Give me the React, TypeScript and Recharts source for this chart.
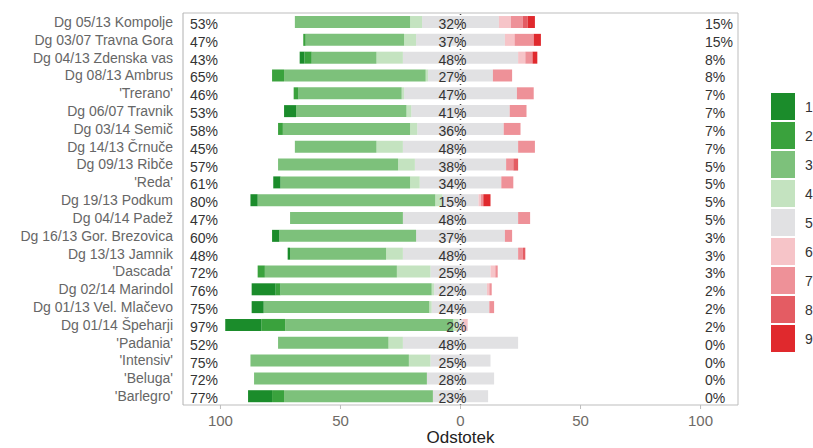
import React from 'react';
import { BarChart, Bar, XAxis, YAxis, ReferenceLine, LabelList } from 'recharts';

// Likert-style answers per cultivar (percent of respondents per score 1..9)
const names = [
  'Dg 05/13 Kompolje', 'Dg 03/07 Travna Gora', 'Dg 04/13 Zdenska vas', 'Dg 08/13 Ambrus',
  "'Trerano'", 'Dg 06/07 Travnik', 'Dg 03/14 Semič', 'Dg 14/13 Črnuče', 'Dg 09/13 Ribče',
  "'Reda'", 'Dg 19/13 Podkum', 'Dg 04/14 Padež', 'Dg 16/13 Gor. Brezovica', 'Dg 13/13 Jamnik',
  "'Dascada'", 'Dg 02/14 Marindol', 'Dg 01/13 Vel. Mlačevo', 'Dg 01/14 Špeharji',
  "'Padania'", "'Intensiv'", "'Beluga'", "'Barlegro'",
];

const c1 = [0, 0, 2, 0, 0, 5, 0, 0, 0, 3, 3, 0, 3, 1, 0, 10, 5, 15, 0, 0, 0, 10];
const c2 = [0, 1, 3, 5, 2, 0, 2, 0, 0, 0, 0, 0, 0, 0, 3, 2, 0, 10, 0, 0, 0, 5];
const c3 = [48, 41, 27, 59, 43, 46, 53, 34, 50, 54, 74, 47, 57, 40, 55, 63, 69, 70, 46, 66, 72, 62];
const c4 = [5, 5, 11, 1, 1, 2, 3, 11, 7, 4, 3, 0, 0, 7, 14, 1, 1, 2, 6, 9, 0, 0];
const c5 = [32, 37, 48, 27, 47, 41, 36, 48, 38, 34, 15, 48, 37, 48, 25, 22, 24, 2, 48, 25, 28, 23];
const c6 = [5, 4, 3, 0, 0, 0, 0, 0, 0, 0, 1, 0, 0, 0, 2, 1, 0, 2, 0, 0, 0, 0];
const c7 = [5, 8, 3, 8, 7, 7, 7, 7, 3, 5, 1, 5, 3, 2, 1, 1, 2, 0, 0, 0, 0, 0];
const c8 = [2, 0, 0, 0, 0, 0, 0, 0, 2, 0, 0, 0, 0, 1, 0, 0, 0, 0, 0, 0, 0, 0];
const c9 = [3, 3, 2, 0, 0, 0, 0, 0, 0, 0, 3, 0, 0, 0, 0, 0, 0, 0, 0, 0, 0, 0];

const posLabels = ['53%', '47%', '43%', '65%', '46%', '53%', '58%', '45%', '57%', '61%', '80%', '47%', '60%', '48%', '72%', '76%', '75%', '97%', '52%', '75%', '72%', '77%'];
const neuLabels = ['32%', '37%', '48%', '27%', '47%', '41%', '36%', '48%', '38%', '34%', '15%', '48%', '37%', '48%', '25%', '22%', '24%', '2%', '48%', '25%', '28%', '23%'];
const negLabels = ['15%', '15%', '8%', '8%', '7%', '7%', '7%', '7%', '5%', '5%', '5%', '5%', '3%', '3%', '3%', '2%', '2%', '2%', '0%', '0%', '0%', '0%'];

const legendKeys = ['1', '2', '3', '4', '5', '6', '7', '8', '9'];
const bottomTicks = [-100, -50, 0, 50, 100];
const topTicks = [-100, -75, -50, -25, 0, 25, 50, 75, 100];

const COLORS = ['#1b8c2b', '#3aa23d', '#7dc17b', '#c4e3c0', '#e1e1e3', '#f6c4c8', '#ee9198', '#e45c63', '#e0292d'];
const XMAX = 115.6;
const PLOT_LEFT = 183;
const PLOT_RIGHT = 738;
const FONT = '"Liberation Sans", Arial, sans-serif';

const data = names.map((name, i) => ({
  name,
  n5L: -c5[i] / 2 || 0,
  c4: -c4[i] || 0,
  c3: -c3[i] || 0,
  c2: -c2[i] || 0,
  c1: -c1[i] || 0,
  n5R: c5[i] / 2,
  c6: c6[i],
  c7: c7[i],
  c8: c8[i],
  c9: c9[i],
  pos: posLabels[i],
  neu: neuLabels[i],
  neg: negLabels[i],
}));

const leftPct = (p: any) => (
  <text x={PLOT_LEFT + 7} y={p.y + p.height / 2} dy={2} dominantBaseline="central" fontSize={14} fill="#333" fontFamily={FONT}>
    {p.value}
  </text>
);

const midPct = (p: any) => (
  <text x={p.x + 6} y={p.y + p.height / 2} dy={2} dominantBaseline="central" textAnchor="end" fontSize={14} fill="#333" fontFamily={FONT}>
    {p.value}
  </text>
);

const rightPct = (p: any) => (
  <text x={PLOT_RIGHT - 33} y={p.y + p.height / 2} dy={2} dominantBaseline="central" fontSize={14} fill="#333" fontFamily={FONT}>
    {p.value}
  </text>
);

const App: React.FC = () => {
  return (
    <div style={{ position: 'absolute', left: 0, top: 0, width: 813, height: 448, background: '#fff', fontFamily: FONT }}>
      <BarChart
        width={813}
        height={448}
        data={data}
        layout="vertical"
        stackOffset="sign"
        barCategoryGap="17%"
        margin={{ top: 0, right: 813 - PLOT_RIGHT, bottom: 0, left: 0 }}
      >
        <XAxis
          xAxisId="top"
          orientation="top"
          type="number"
          domain={[-XMAX, XMAX]}
          ticks={topTicks}
          tick={false}
          tickSize={3}
          height={13}
          axisLine={{ stroke: '#bdbdbd' }}
          tickLine={{ stroke: '#bdbdbd' }}
        />
        <XAxis
          type="number"
          domain={[-XMAX, XMAX]}
          ticks={bottomTicks}
          tickFormatter={(v: number) => String(Math.abs(v))}
          tick={{ fontSize: 15, fill: '#6e6a66', fontFamily: FONT }}
          tickSize={4}
          tickMargin={6}
          height={43}
          axisLine={{ stroke: '#bdbdbd' }}
          tickLine={{ stroke: '#bdbdbd' }}
          label={{ value: 'Odstotek', position: 'insideBottom', offset: 5, fontSize: 17, fill: '#222', fontFamily: FONT }}
        />
        <YAxis
          type="category"
          dataKey="name"
          width={PLOT_LEFT}
          tickLine={false}
          tickSize={6}
          tickMargin={4}
          axisLine={{ stroke: '#b0b0b0' }}
          tick={{ fontSize: 14, fill: '#666', fontFamily: FONT }}
          interval={0}
        />
        <Bar dataKey="n5L" stackId="a" fill={COLORS[4]} isAnimationActive={false} />
        <Bar dataKey="c4" stackId="a" fill={COLORS[3]} isAnimationActive={false} />
        <Bar dataKey="c3" stackId="a" fill={COLORS[2]} isAnimationActive={false} />
        <Bar dataKey="c2" stackId="a" fill={COLORS[1]} isAnimationActive={false} />
        <Bar dataKey="c1" stackId="a" fill={COLORS[0]} isAnimationActive={false} />
        <Bar dataKey="n5R" stackId="a" fill={COLORS[4]} isAnimationActive={false}>
          <LabelList dataKey="pos" content={leftPct} />
          <LabelList dataKey="neu" content={midPct} />
          <LabelList dataKey="neg" content={rightPct} />
        </Bar>
        <Bar dataKey="c6" stackId="a" fill={COLORS[5]} isAnimationActive={false} />
        <Bar dataKey="c7" stackId="a" fill={COLORS[6]} isAnimationActive={false} />
        <Bar dataKey="c8" stackId="a" fill={COLORS[7]} isAnimationActive={false} />
        <Bar dataKey="c9" stackId="a" fill={COLORS[8]} isAnimationActive={false} />
        <ReferenceLine x={0} stroke="#444" strokeDasharray="1 4" strokeWidth={1.5} />
        <ReferenceLine x={XMAX} stroke="#bdbdbd" />
      </BarChart>
      <div style={{ position: 'absolute', left: 771, top: 92 }}>
        {legendKeys.map((k, i) => (
          <div key={k} style={{ display: 'flex', alignItems: 'center', height: 29 }}>
            <div style={{ width: 24, height: 27, background: COLORS[i] }} />
            <span style={{ marginLeft: 10, fontSize: 14, color: '#333' }}>{k}</span>
          </div>
        ))}
      </div>
    </div>
  );
};

export default App;
